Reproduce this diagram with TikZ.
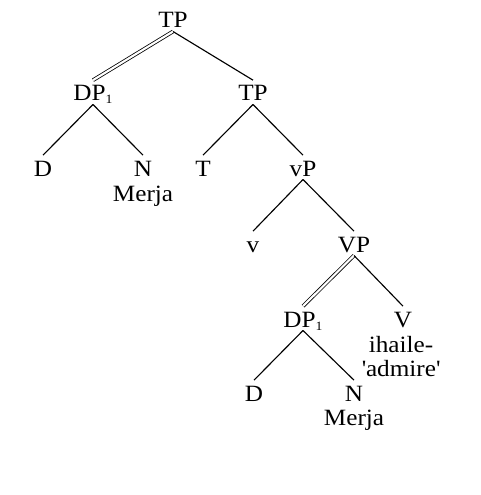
\documentclass[tikz,border=0pt]{standalone}
\usepackage{fontspec}
\setmainfont{Liberation Serif}[FakeStretch=1.08]
\newcommand{\idx}[1]{\raisebox{-2.25pt}{\fontsize{9.5}{9.5}\selectfont #1}}
\tikzset{every picture/.style={line width=0.75pt}}
\tikzset{
  cat/.style={anchor=base, inner xsep=0pt, inner ysep=2.25pt, text height=13pt, text depth=0pt},
  gloss/.style={anchor=base, inner sep=0pt},
  branch/.style={line width=0.85pt},
  moved/.style={double, double distance=1.6pt, line width=0.6pt}
}

\begin{document}
\begin{tikzpicture}[x=0.75pt,y=0.75pt,yscale=-1,xscale=1,font=\fontsize{17.5}{18.4}\selectfont]
%set diagram left start at 0, and has height of 495
\useasboundingbox (0,0) rectangle (480,495);

% Text Node
\node [cat] (tp) at (173,28) {TP};
% Text Node
\node [cat] (dpa) at (93,101) {DP\idx{1}};
% Text Node
\node [cat] (tpb) at (253,101) {TP};
% Text Node
\node [cat] (da) at (43,176) {D};
% Text Node
\node [cat] (na) at (143,176) {N};
% Text Node
\node [gloss] (merjaa) at (143,201) {Merja};
% Text Node
\node [cat] (t) at (203,176) {T};
% Text Node
\node [cat] (vp) at (303,176) {vP};
% Text Node
\node [cat] (v) at (253,252) {v};
% Text Node
\node [cat] (vpb) at (354,252) {VP};
% Text Node
\node [cat] (dpb) at (303,327) {DP\idx{1}};
% Text Node
\node [cat] (vb) at (403,327) {V};
% Text Node
\node [gloss] (ihaile) at (401,352) {ihaile-};
% Text Node
\node [gloss] (admire) at (401,376) {\textquotesingle admire\textquotesingle};
% Text Node
\node [cat] (db) at (254,401) {D};
% Text Node
\node [cat] (nb) at (354,401) {N};
% Text Node
\node [gloss] (merjab) at (354,425) {Merja};

%Double Lines
\draw [moved] (tp.south) -- (dpa.north);
\draw [moved] (vpb.south) -- (dpb.north);
%Straight Lines
\draw [branch] (tp.south) -- (tpb.north);
\draw [branch] (dpa.south) -- (da.north);
\draw [branch] (dpa.south) -- (na.north);
\draw [branch] (tpb.south) -- (t.north);
\draw [branch] (tpb.south) -- (vp.north);
\draw [branch] (vp.south) -- (v.north);
\draw [branch] (vp.south) -- (vpb.north);
\draw [branch] (vpb.south) -- (vb.north);
\draw [branch] (dpb.south) -- (db.north);
\draw [branch] (dpb.south) -- (nb.north);
\end{tikzpicture}
\end{document}
